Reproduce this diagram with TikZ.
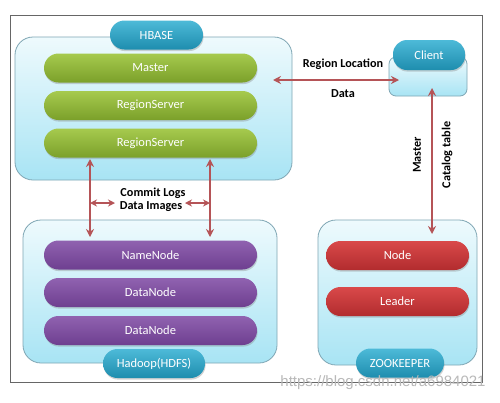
\documentclass[tikz,border=0pt]{standalone}
\usepackage{fontspec}
\setmainfont{Carlito}
\newfontfamily\wmfont{Liberation Sans}
\usetikzlibrary{arrows.meta,shadows}
\definecolor{contTop}{HTML}{EEFAFD}
\definecolor{contBot}{HTML}{A8E4F4}
\definecolor{contLine}{HTML}{7FA6B4}
\definecolor{greenTop}{HTML}{A6CA4E}
\definecolor{greenBot}{HTML}{7BA02A}
\definecolor{purpTop}{HTML}{9062B0}
\definecolor{purpBot}{HTML}{6E3F90}
\definecolor{redTop}{HTML}{D9494A}
\definecolor{redBot}{HTML}{B22C2E}
\definecolor{tealTop}{HTML}{4DBAD8}
\definecolor{tealBot}{HTML}{1E8DAE}
\definecolor{arrowCol}{HTML}{B55457}
\begin{document}
\begin{tikzpicture}[x=1pt,y=-1pt,
  container/.style={draw=contLine, line width=0.8pt, rounded corners=18pt,
    top color=contTop, bottom color=contBot, inner sep=0pt},
  bar/.style={rounded corners=14.5pt, minimum height=29pt, inner sep=0pt,
    text=white, font=\fontsize{12.5}{14}\selectfont,
    drop shadow={shadow xshift=0.6pt, shadow yshift=-1.6pt, opacity=0.35}},
  greenbar/.style={bar, top color=greenTop, bottom color=greenBot, minimum width=213pt},
  purpbar/.style={bar, top color=purpTop, bottom color=purpBot, minimum width=213pt},
  redbar/.style={bar, top color=redTop, bottom color=redBot, minimum width=143pt},
  pill/.style={rounded corners=14.5pt, minimum height=29pt, inner sep=0pt,
    text=white, font=\fontsize{12.5}{14}\selectfont,
    top color=tealTop, bottom color=tealBot,
    drop shadow={shadow xshift=0.6pt, shadow yshift=-1.6pt, opacity=0.35}},
  lbl/.style={font=\bfseries\fontsize{12.2}{14}\selectfont, inner sep=0pt},
  conn/.style={draw=arrowCol, line width=1.9pt, {Stealth[length=8pt,width=8pt]}-{Stealth[length=8pt,width=8pt]}},
  sconn/.style={draw=arrowCol, line width=1.9pt, {Stealth[length=7pt,width=7pt]}-{Stealth[length=7pt,width=7pt]}}
]
\useasboundingbox (0,0) rectangle (500,402);
\fill[white] (0,0) rectangle (500,402);
% outer frame
\node[draw=gray!80!black, line width=0.8pt, minimum width=472pt, minimum height=367pt, inner sep=0pt,
  drop shadow={shadow xshift=1pt, shadow yshift=-1pt, opacity=0.25}, fill=white] (frame) at (246,198.5) {};

% containers
\node[container, minimum width=277pt, minimum height=143pt] (hbase) at (153.5,108.5) {};
\node[container, minimum width=254pt, minimum height=143pt] (hdfs) at (150,291.5) {};
\node[container, minimum width=159pt, minimum height=145pt] (zk) at (397.5,292.5) {};
\node[container, rounded corners=7pt, minimum width=78pt, minimum height=39pt] (clientbox) at (428,76.5) {};

% bars
\node[greenbar] (master) at (150.5,68) {Master};
\node[greenbar] (rs1) at (150.5,105.5) {RegionServer};
\node[greenbar] (rs2) at (150.5,143) {RegionServer};
\node[purpbar] (nn) at (150.5,255) {NameNode};
\node[purpbar] (dn1) at (150.5,292.5) {DataNode};
\node[purpbar] (dn2) at (150.5,330.5) {DataNode};
\node[redbar] (node) at (397.5,255.5) {Node};
\node[redbar] (leader) at (397.5,301.5) {Leader};

% pills
\node[pill, minimum width=93pt] (hbaselbl) at (156.5,35) {HBASE};
\node[pill, minimum width=102pt] (hdfslbl) at (154,363.5) {Hadoop(HDFS)};
\node[pill, minimum width=88pt] (zklbl) at (400,363) {ZOOKEEPER};
\node[pill, minimum width=72pt, rounded corners=14pt, minimum height=30pt] (client) at (429,55) {Client};

% connector end points
\coordinate (hbR) at (273,80);
\coordinate (clL) at (399,80);
\coordinate (clB) at (432,88);
\coordinate (zkT) at (432,234);
\coordinate (hbA) at (90,159);
\coordinate (hdA) at (90,237);
\coordinate (hbB) at (210,159);
\coordinate (hdB) at (210,237);
\coordinate (la) at (90,203);
\coordinate (lb) at (115,203);
\coordinate (ra) at (185,203);
\coordinate (rb) at (210,203);

\draw[conn] (hbR) -- (clL);
\draw[conn] (clB) -- (zkT);
\draw[conn] (hbA) -- (hdA);
\draw[conn] (hbB) -- (hdB);
\draw[sconn] (la) -- (lb);
\draw[sconn] (ra) -- (rb);

% labels
\node[lbl] (rl) at (343,64) {Region Location};
\node[lbl] (data) at (343,94) {Data};
\node[lbl, rotate=90] (mst) at (417,155) {Master};
\node[lbl, rotate=90] (cat) at (447,155) {Catalog table};
\node[lbl] (cl) at (153,193) {Commit Logs};
\node[lbl] (di) at (151,207) {Data Images};

% watermark
\node[inner sep=0pt, text=gray!55, font=\wmfont\fontsize{15}{17}\selectfont] (wm) at (383,383) {https://blog.csdn.net/a6984021};
\end{tikzpicture}
\end{document}
